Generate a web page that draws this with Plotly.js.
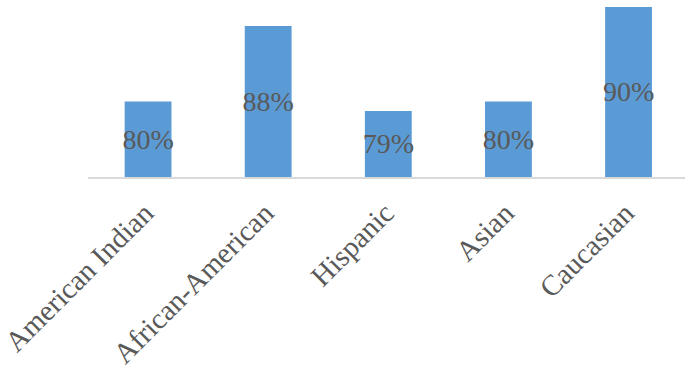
<!DOCTYPE html>
<html>
<head>
<meta charset="utf-8">
<script src="https://cdn.plot.ly/plotly-3.0.1.min.js"></script>
<style>html,body{margin:0;padding:0;background:#fff;}#chart{width:685px;height:370px;}</style>
</head>
<body>
<div id="chart"></div>
<script>
var categories = ["American Indian", "African-American", "Hispanic", "Asian", "Caucasian"];
var values = [80, 88, 79, 80, 90];
var valueLabels = ["80%", "88%", "79%", "80%", "90%"];
var axisMin = 72;
var axisMax = 90.74;

var trace = {
  type: "bar",
  x: categories,
  base: axisMin,
  y: values.map(function (v) { return v - axisMin; }),
  text: valueLabels,
  textposition: "inside",
  insidetextanchor: "middle",
  constraintext: "none",
  textangle: 0,
  texttemplate: "%{text}",
  textfont: {family: "Liberation Serif, Times New Roman, serif", size: 28, color: "#595959"},
  marker: {color: "#5b9bd5"},
  cliponaxis: false,
  hoverinfo: "none"
};

var layout = {
  width: 685,
  height: 370,
  margin: {l: 88, r: 0, t: 0, b: 193},
  paper_bgcolor: "#fff",
  plot_bgcolor: "#fff",
  bargap: 0.61,
  showlegend: false,
  xaxis: {
    range: [-0.5, 4.47],
    tickangle: -45,
    automargin: false,
    showline: true,
    linecolor: "#d9d9d9",
    linewidth: 1.5,
    ticks: "",
    ticklabelstandoff: 6,
    ticklabelshift: -3,
    showgrid: false,
    zeroline: false,
    tickfont: {family: "Liberation Serif, Times New Roman, serif", size: 29, color: "#595959"}
  },
  yaxis: {
    range: [axisMin, axisMax],
    visible: false,
    showgrid: false,
    zeroline: false
  }
};

Plotly.newPlot("chart", [trace], layout, {displayModeBar: false, staticPlot: true});
</script>
</body>
</html>
